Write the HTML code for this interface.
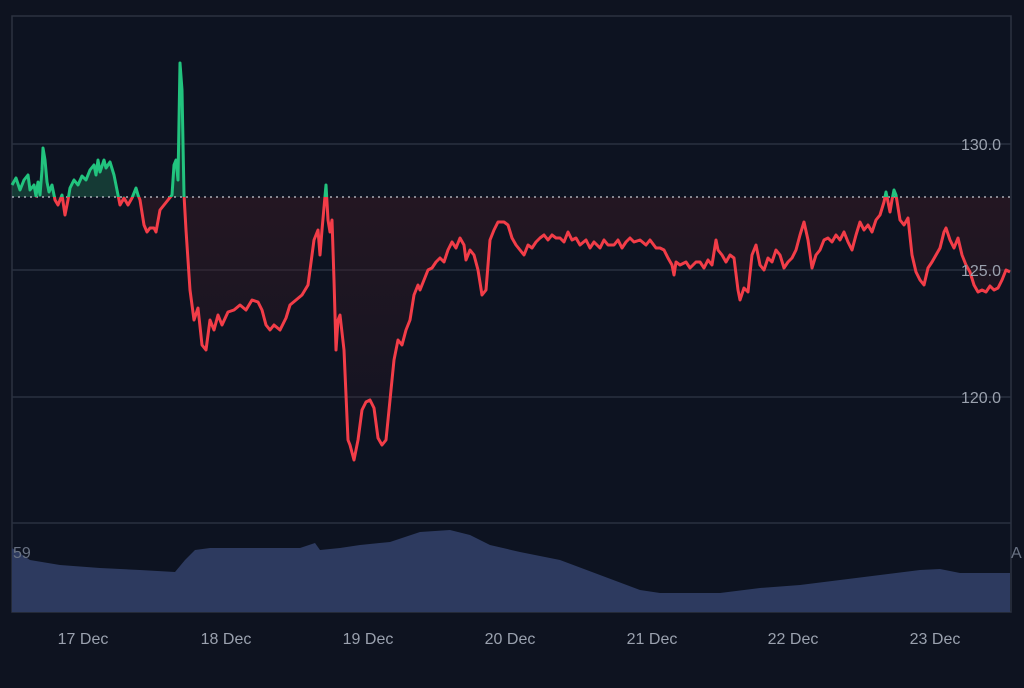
<!DOCTYPE html>
<html><head><style>
body{margin:0;background:#0e1320;}
svg text{font-family:"Liberation Sans",sans-serif;}
</style></head><body>
<svg width="1024" height="683" viewBox="0 0 1024 683" xmlns="http://www.w3.org/2000/svg">
<defs>
<clipPath id="above"><rect x="0" y="0" width="1024" height="197"/></clipPath>
<clipPath id="below"><rect x="0" y="197" width="1024" height="400"/></clipPath>
<linearGradient id="rg" x1="0" y1="0" x2="0" y2="1"><stop offset="0" stop-color="#3a1a24" stop-opacity="0.7"/><stop offset="1" stop-color="#3a1a24" stop-opacity="0.1"/></linearGradient>
</defs>
<rect width="1024" height="683" fill="#0e1320"/>
<rect x="12" y="16" width="999" height="596" fill="#0d1321" stroke="#2c3340" stroke-width="1.5"/>
<g stroke="#2a3140" stroke-width="1.5">
<line x1="12" y1="144" x2="1011" y2="144"/>
<line x1="12" y1="270" x2="1011" y2="270"/>
<line x1="12" y1="397" x2="1011" y2="397"/>
<line x1="12" y1="523" x2="1011" y2="523"/>
</g>
<polygon fill="#2d3a5f" points="12,548 30,560 60,565 100,568 140,570 175,572 185,560 195,550 210,548 240,548 300,548 315,543 320,550 340,548 360,545 390,542 420,532 450,530 470,535 490,545 520,552 560,560 600,575 640,590 660,593 720,593 760,588 800,585 840,580 880,575 920,570 940,569 960,573 1010,573 1010,612 12,612"/>
<g id="fills">
<polygon clip-path="url(#above)" fill="#1f6a4d" fill-opacity="0.45" id="areaA" points=""/>
</g>
<line x1="12" y1="197" x2="1011" y2="197" stroke="#c8ccd4" stroke-width="1.3" stroke-dasharray="2,4"/>
<g id="lines"></g>
<g font-size="16" fill="#9aa1ae">
<text x="1001" y="150" text-anchor="end">130.0</text>
<text x="1001" y="276" text-anchor="end">125.0</text>
<text x="1001" y="403" text-anchor="end">120.0</text>
<text x="13" y="558" fill="#6a7384">59</text>
<text x="1011" y="558" fill="#6a7384">A</text>
<text x="83" y="644" text-anchor="middle">17 Dec</text>
<text x="226" y="644" text-anchor="middle">18 Dec</text>
<text x="368" y="644" text-anchor="middle">19 Dec</text>
<text x="510" y="644" text-anchor="middle">20 Dec</text>
<text x="652" y="644" text-anchor="middle">21 Dec</text>
<text x="793" y="644" text-anchor="middle">22 Dec</text>
<text x="935" y="644" text-anchor="middle">23 Dec</text>
</g>
</svg>
<script>
var p="12,185 16,178 20,190 24,180 28,175 30,190 34,185 36,196 38,182 40,195 42,170 43,148 45,160 47,182 49,192 52,185 55,200 58,205 62,195 65,215 68,200 70,188 74,180 78,185 82,176 86,180 90,170 94,165 96,175 98,160 100,172 104,160 106,168 110,162 114,175 118,195 120,205 124,198 128,205 132,198 136,188 138,195 140,200 144,225 147,232 150,228 154,228 156,232 160,210 164,205 168,200 172,195 174,165 176,160 178,180 180,63 182,90 184,195 186,230 190,290 194,320 198,308 202,345 206,350 210,320 214,330 218,315 222,325 228,312 234,310 240,305 246,310 252,300 258,302 262,310 266,325 270,330 274,325 280,330 286,318 290,305 296,300 302,295 308,285 314,240 318,230 320,255 322,230 326,185 328,220 330,232 332,220 334,280 336,350 338,320 340,315 344,350 348,440 350,445 354,460 358,440 362,410 366,402 370,400 374,408 378,438 382,445 386,440 390,400 394,360 398,340 402,345 406,330 410,320 414,295 418,285 420,290 424,280 428,270 432,268 436,262 440,258 444,262 448,250 452,242 456,248 460,238 464,245 466,260 470,250 474,255 478,270 482,295 486,290 490,240 494,230 498,222 504,222 508,225 512,238 516,245 520,250 524,255 528,245 532,248 536,242 540,238 544,235 548,240 552,235 556,238 560,238 564,242 568,232 572,240 576,238 580,245 586,240 590,248 594,242 600,248 604,240 608,245 614,245 618,240 622,248 626,242 630,238 634,242 640,240 646,245 650,240 656,248 660,248 664,250 668,258 672,265 674,275 676,262 680,265 686,262 690,268 696,262 700,262 704,268 708,260 712,265 716,240 718,250 722,255 726,262 730,255 734,258 738,290 740,300 744,288 748,292 752,255 756,245 760,265 764,270 768,258 772,262 776,250 780,255 784,268 788,262 792,258 796,250 800,235 804,222 808,240 812,268 816,255 820,250 824,240 828,238 832,242 836,235 840,240 844,232 848,242 852,250 856,235 860,222 864,230 868,225 872,232 876,220 880,215 884,202 886,192 890,212 892,200 894,190 896,195 900,220 904,225 908,218 912,255 916,272 920,280 924,285 928,268 932,262 936,255 940,248 944,232 946,228 950,240 954,248 958,238 962,255 966,265 970,272 974,285 978,292 982,290 986,292 990,286 994,290 998,288 1002,280 1006,270 1010,272";
var ns="http://www.w3.org/2000/svg";
document.getElementById('areaA').setAttribute('points',p+" 1010,197 12,197");
var f=document.getElementById('fills');
var r=document.createElementNS(ns,'polygon');r.setAttribute('points',p+" 1010,197 12,197");r.setAttribute('clip-path','url(#below)');r.setAttribute('fill','url(#rg)');f.appendChild(r);
var g=document.getElementById('lines');
[['above','#22c37e'],['below','#f23d48']].forEach(function(a){var l=document.createElementNS(ns,'polyline');l.setAttribute('points',p);l.setAttribute('fill','none');l.setAttribute('stroke',a[1]);l.setAttribute('stroke-width','3');l.setAttribute('stroke-linejoin','round');l.setAttribute('clip-path','url(#'+a[0]+')');g.appendChild(l);});
</script>
</body></html>
